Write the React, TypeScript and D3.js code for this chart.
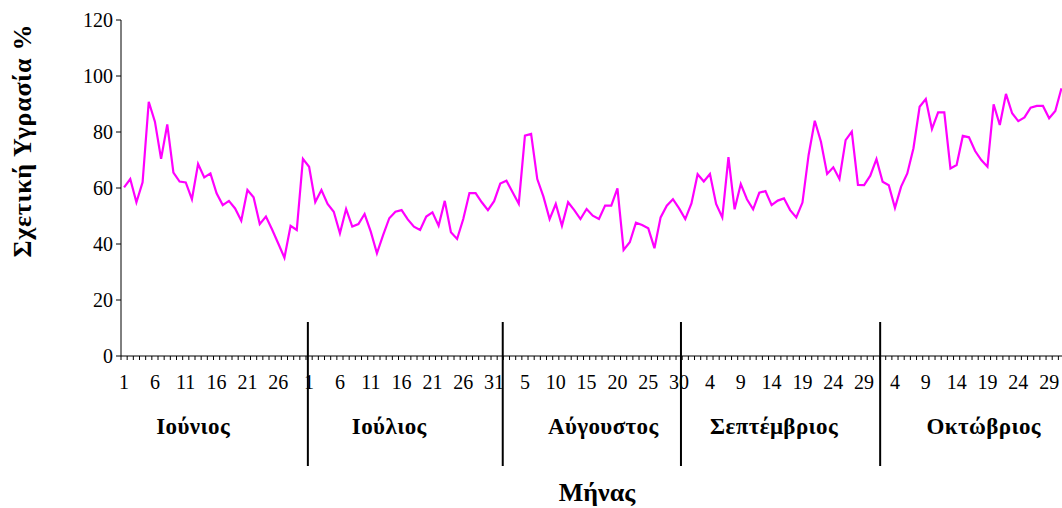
import React, { useEffect, useRef } from "react";
import * as d3 from "d3";

const humidity: number[] = [
  // June (30)
  60.2, 63.2, 54.9, 62.0, 90.8, 83.7, 70.4, 82.7, 65.5, 62.3,
  62.0, 56.0, 68.6, 63.8, 65.2, 58.1, 53.9, 55.4, 52.7, 48.3,
  59.3, 56.7, 47.1, 49.8, 45.2, 40.2, 35.1, 46.5, 45.0, 70.4,
  // July (31)
  67.6, 55.0, 59.3, 54.3, 51.5, 43.8, 52.5, 46.2, 47.1, 50.7,
  44.4, 36.7, 43.2, 49.2, 51.5, 52.1, 48.8, 46.2, 45.0, 49.8,
  51.3, 46.5, 55.4, 44.2, 41.8, 48.9, 58.2, 58.2, 54.9, 52.1,
  55.3,
  // August (31)
  61.6, 62.6, 58.5, 54.4, 78.7, 79.3, 63.2, 56.9, 48.9, 54.3,
  46.5, 54.9, 52.1, 48.9, 52.5, 50.1, 48.9, 53.7, 53.7, 59.9,
  37.9, 40.6, 47.6, 46.8, 45.6, 38.5, 49.5, 53.7, 56.0, 52.7,
  48.9,
  // September (30)
  54.5, 64.9, 62.3, 65.0, 54.3, 49.5, 71.0, 52.4, 61.4, 56.0,
  52.4, 58.3, 58.9, 53.9, 55.5, 56.3, 52.1, 49.5, 54.8, 71.8,
  84.0, 76.5, 65.0, 67.4, 63.2, 77.1, 80.1, 61.1, 61.0, 64.4,
  // October (31)
  70.3, 62.2, 61.0, 52.9, 60.5, 65.2, 74.2, 89.0, 91.8, 81.1,
  87.0, 87.0, 67.0, 68.2, 78.6, 78.1, 73.2, 70.0, 67.6, 89.9,
  82.5, 93.6, 86.7, 83.9, 85.2, 88.7, 89.3, 89.3, 84.9, 87.5,
  95.6,
];

const tickLabels: string[] = [
  "1", "6", "11", "16", "21", "26",
  "1", "6", "11", "16", "21", "26", "31",
  "5", "10", "15", "20", "25", "30",
  "4", "9", "14", "19", "24", "29",
  "4", "9", "14", "19", "24", "29",
];
const tickLabelEvery = 5;

const yTicks: number[] = [0, 20, 40, 60, 80, 100, 120];

const monthNames: string[] = ["Ιούνιος", "Ιούλιος", "Αύγουστος", "Σεπτέμβριος", "Οκτώβριος"];
// positions in day-units along the category axis
const monthLabelPos: number[] = [11.7, 43.5, 78.2, 105.9, 139.9];
const monthDividers: number[] = [30.3, 61.9, 90.8, 123.1];

const yTitle = "Σχετική Υγρασία %";
const xTitle = "Μήνας";

export default function App() {
  const ref = useRef<SVGSVGElement | null>(null);

  useEffect(() => {
    const W = 1062, H = 508;
    const left = 121, right = 121 + humidity.length * 6.167;
    const top = 20, bottom = 356;
    const svg = d3.select(ref.current);
    svg.selectAll("*").remove();

    const n = humidity.length;
    const xc = d3.scaleLinear().domain([0, n]).range([left, right]); // category units
    const xDay = (i: number) => xc(i + 0.5);
    const y = d3.scaleLinear().domain([0, 120]).range([bottom, top]);

    const font = "'Liberation Serif', 'Times New Roman', serif";

    // axes lines
    svg.append("line").attr("x1", left).attr("x2", left).attr("y1", top).attr("y2", bottom)
      .attr("stroke", "#000").attr("stroke-width", 1);
    svg.append("line").attr("x1", left).attr("x2", W).attr("y1", bottom).attr("y2", bottom)
      .attr("stroke", "#000").attr("stroke-width", 1);

    // y ticks
    const yg = svg.append("g");
    yTicks.forEach((t) => {
      yg.append("line").attr("x1", left - 5).attr("x2", left).attr("y1", y(t)).attr("y2", y(t))
        .attr("stroke", "#000");
      yg.append("text").attr("x", left - 8).attr("y", y(t)).attr("dy", "0.34em")
        .attr("text-anchor", "end").attr("font-family", font).attr("font-size", 20)
        .attr("fill", "#000").text(String(t));
    });

    // x ticks at category boundaries
    const xg = svg.append("g");
    for (let i = 0; i <= n; i++) {
      xg.append("line").attr("x1", xc(i)).attr("x2", xc(i)).attr("y1", bottom).attr("y2", bottom + 4)
        .attr("stroke", "#000").attr("stroke-width", 1);
    }
    tickLabels.forEach((lab, k) => {
      const i = k * tickLabelEvery;
      xg.append("text").attr("x", xDay(i)).attr("y", bottom + 33)
        .attr("text-anchor", "middle").attr("font-family", font).attr("font-size", 20)
        .attr("fill", "#000").text(lab);
    });

    // line
    const line = d3.line<number>().x((_, i) => xDay(i)).y((d) => y(d));
    svg.append("path").datum(humidity).attr("d", line).attr("fill", "none")
      .attr("stroke", "#FF00FF").attr("stroke-width", 2.2).attr("stroke-linejoin", "miter");

    // month dividers
    monthDividers.forEach((m) => {
      svg.append("line").attr("x1", xc(m)).attr("x2", xc(m)).attr("y1", 322).attr("y2", 466)
        .attr("stroke", "#000").attr("stroke-width", 2);
    });
    monthNames.forEach((name, k) => {
      svg.append("text").attr("x", xc(monthLabelPos[k])).attr("y", 434)
        .attr("text-anchor", "middle").attr("font-family", font).attr("font-size", 23)
        .attr("letter-spacing", 0.4)
        .attr("font-weight", "bold").attr("fill", "#000").text(name);
    });

    // titles
    svg.append("text").attr("transform", `translate(31,141) rotate(-90)`)
      .attr("text-anchor", "middle").attr("font-family", font).attr("font-size", 26)
      .attr("textLength", 233).attr("lengthAdjust", "spacing")
      .attr("font-weight", "bold").attr("fill", "#000").text(yTitle);
    svg.append("text").attr("x", 597).attr("y", 501)
      .attr("text-anchor", "middle").attr("font-family", font).attr("font-size", 26)
      .attr("font-weight", "bold").attr("fill", "#000").text(xTitle);

    svg.attr("width", W).attr("height", H);
  }, []);

  return (
    <svg ref={ref} width={1062} height={508}
      style={{ position: "absolute", left: 0, top: 0, background: "#fff", overflow: "hidden" }} />
  );
}
